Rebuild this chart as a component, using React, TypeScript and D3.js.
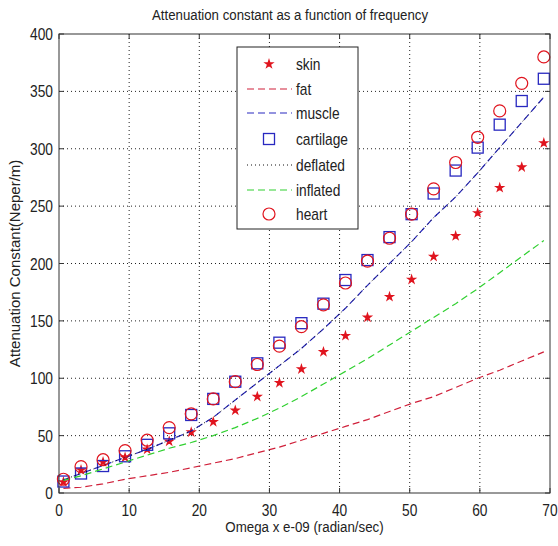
import React from "react";
import * as d3 from "d3";

const omega = [0.63, 3.14, 6.28, 9.42, 12.57, 15.71, 18.85, 21.99, 25.13, 28.27, 31.42, 34.56, 37.7, 40.84, 43.98, 47.12, 50.27, 53.41, 56.55, 59.69, 62.83, 65.97, 69.12];
const skin = [9.6, 20, 27, 31, 38, 45, 53, 62, 72, 84, 96, 108, 123, 137, 153, 171, 186, 206, 224, 244, 266, 284, 305];
const fat = [4, 5, 8, 12, 15, 18, 22, 26, 30, 35, 40, 46, 52, 58, 64, 71, 78, 84, 92, 100, 107, 115, 123];
const muscle = [11.5, 17, 24, 31, 38, 46, 54, 66, 81, 96, 111, 126, 143, 161, 181, 200, 219, 240, 258, 279, 301, 323, 345];
const cartilage = [10, 17, 23.5, 32, 42, 52, 68, 82, 97, 113, 131, 148, 165, 185.6, 203, 223, 243, 261, 281, 301, 321, 341.6, 361];
const deflated = [11.5, 17, 24, 31, 38, 46, 54, 66, 81, 96, 111, 126, 143, 161, 181, 200, 219, 240, 258, 279, 301, 323, 345];
const inflated = [11, 15, 21, 27, 33, 39, 44, 50, 57, 65, 74, 84, 95, 106, 117, 129, 141, 153, 165, 178, 192, 206, 220];
const heart = [12, 23, 29, 37, 46, 57, 69, 82, 97, 112, 128, 145, 164, 183, 202, 222, 243, 265, 288, 310, 333, 357, 380];

const xTicks = [0, 10, 20, 30, 40, 50, 60, 70];
const yTicks = [0, 50, 100, 150, 200, 250, 300, 350, 400];
const legendLabels = ["skin", "fat", "muscle", "cartilage", "deflated", "inflated", "heart"];

const W = 558, H = 546;
const L = 59, R = 550, T = 34, B = 493;
const FONT = "'Liberation Sans', Arial, sans-serif";
const TXT = "#222";
const RED = "#e0141e";
const FATRED = "#d0203a";
const BLUE = "#2828c0";
const GREEN = "#30d030";

function NText(props: { x: number; y: number; anchor?: string; size?: number; rotate?: number; sx?: number; children: React.ReactNode }) {
  const { x, y, anchor = "start", size = 15, rotate = 0, sx = 0.86, children } = props;
  return (
    <text
      transform={`translate(${x},${y}) rotate(${rotate}) scale(${sx},1)`}
      textAnchor={anchor}
      fontFamily={FONT}
      fontSize={size}
      fill={TXT}
    >
      {children}
    </text>
  );
}

export default function App() {
  const x = d3.scaleLinear().domain([0, 70]).range([L, R]);
  const y = d3.scaleLinear().domain([0, 400]).range([B, T]);
  const line = (vals: number[]) =>
    d3.line<number>().x((_, i) => x(omega[i])).y((v) => y(v))(vals) || "";
  const star = d3.symbol().type(d3.symbolStar).size(14)() || "";

  const legX0 = 237, legY0 = 47, legW = 121, legH = 182;
  const rowY = [64, 89, 113, 139, 165, 190, 214];

  return (
    <svg width={W} height={H} style={{ position: "absolute", left: 0, top: 0, background: "#fff" }}>
      <rect x={0} y={0} width={W} height={H} fill="#fff" />
      {xTicks.slice(1, -1).map((t) => (
        <line key={"gx" + t} x1={x(t)} x2={x(t)} y1={T} y2={B} stroke="#222" strokeWidth={1} strokeDasharray="1,3" />
      ))}
      {yTicks.slice(1, -1).map((t) => (
        <line key={"gy" + t} x1={L} x2={R} y1={y(t)} y2={y(t)} stroke="#222" strokeWidth={1} strokeDasharray="1,3" />
      ))}
      {omega.map((o, i) => (
        <path key={"sk" + i} d={star} transform={`translate(${x(o)},${y(skin[i])})`} fill={RED} stroke={RED} strokeWidth={1.5} />
      ))}
      <path d={line(fat)} fill="none" stroke={FATRED} strokeWidth={1.2} strokeDasharray="7,4" />
      <path d={line(muscle)} fill="none" stroke={BLUE} strokeWidth={1.2} strokeDasharray="7,4" />
      {omega.map((o, i) => (
        <rect key={"ca" + i} x={x(o) - 5.5} y={y(cartilage[i]) - 5.5} width={11} height={11} fill="none" stroke={BLUE} strokeWidth={1.3} />
      ))}
      <path d={line(deflated)} fill="none" stroke="#111" strokeWidth={1} strokeDasharray="1,3" />
      <path d={line(inflated)} fill="none" stroke={GREEN} strokeWidth={1.2} strokeDasharray="7,4" />
      {omega.map((o, i) => (
        <circle key={"he" + i} cx={x(o)} cy={y(heart[i])} r={6} fill="none" stroke={RED} strokeWidth={1.2} />
      ))}
      <rect x={L} y={T} width={R - L} height={B - T} fill="none" stroke="#333" strokeWidth={1} />
      {xTicks.map((t) => (
        <g key={"xt" + t}>
          <line x1={x(t)} x2={x(t)} y1={B} y2={B - 5} stroke="#333" />
          <line x1={x(t)} x2={x(t)} y1={T} y2={T + 5} stroke="#333" />
          <NText x={x(t)} y={B + 23} anchor="middle" size={16}>{t}</NText>
        </g>
      ))}
      {yTicks.map((t) => (
        <g key={"yt" + t}>
          <line x1={L} x2={L + 5} y1={y(t)} y2={y(t)} stroke="#333" />
          <line x1={R} x2={R - 5} y1={y(t)} y2={y(t)} stroke="#333" />
          <NText x={L - 6} y={y(t) + 6} anchor="end" size={16}>{t}</NText>
        </g>
      ))}
      <NText x={290} y={20} anchor="middle" size={15.4}>
        Attenuation constant as a function of frequency
      </NText>
      <NText x={(L + R) / 2} y={532} anchor="middle" size={15.5}>
        Omega x e-09 (radian/sec)
      </NText>
      <NText x={20} y={(T + B) / 2} anchor="middle" size={15} sx={1} rotate={-90}>
        Attenuation Constant(Neper/m)
      </NText>
      <rect x={legX0} y={legY0} width={legW} height={legH} fill="#fff" stroke="#222" strokeWidth={1} />
      {legendLabels.map((lab, i) => {
        const yy = rowY[i];
        const lx1 = 247, lx2 = 292, mx = 269;
        let sample: React.ReactNode = null;
        if (lab === "skin") sample = <path d={star} transform={`translate(${mx},${yy})`} fill={RED} stroke={RED} strokeWidth={1.5} />;
        if (lab === "fat") sample = <line x1={lx1} x2={lx2} y1={yy} y2={yy} stroke={FATRED} strokeWidth={1.2} strokeDasharray="7,4" />;
        if (lab === "muscle") sample = <line x1={lx1} x2={lx2} y1={yy} y2={yy} stroke={BLUE} strokeWidth={1.2} strokeDasharray="7,4" />;
        if (lab === "cartilage") sample = <rect x={mx - 5.5} y={yy - 5.5} width={11} height={11} fill="none" stroke={BLUE} strokeWidth={1.3} />;
        if (lab === "deflated") sample = <line x1={lx1} x2={lx2} y1={yy} y2={yy} stroke="#111" strokeWidth={1} strokeDasharray="1,3" />;
        if (lab === "inflated") sample = <line x1={lx1} x2={lx2} y1={yy} y2={yy} stroke={GREEN} strokeWidth={1.2} strokeDasharray="7,4" />;
        if (lab === "heart") sample = <circle cx={mx} cy={yy} r={6} fill="none" stroke={RED} strokeWidth={1.2} />;
        return (
          <g key={lab}>
            {sample}
            <NText x={296} y={yy + 6} size={16}>{lab}</NText>
          </g>
        );
      })}
    </svg>
  );
}
